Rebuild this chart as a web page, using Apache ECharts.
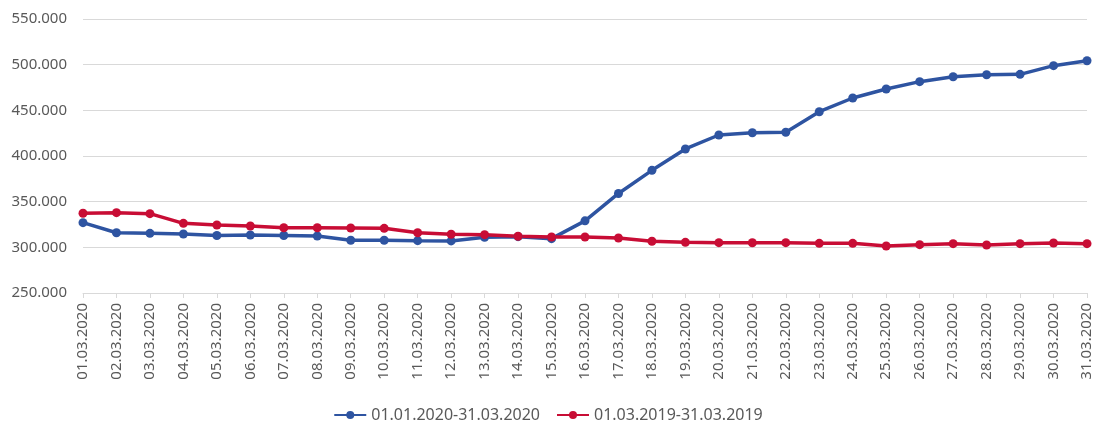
<!DOCTYPE html>
<html>
<head>
<meta charset="utf-8">
<script src="https://cdn.jsdelivr.net/npm/echarts@6/dist/echarts.min.js"></script>
<style>
  html, body { margin: 0; padding: 0; background: #fff; }
  #chart { width: 1096px; height: 428px; }
</style>
</head>
<body>
<div id="chart"></div>
<script>
// kategorien (tage)
var days = [];
for (var d = 1; d <= 31; d++) {
  days.push((d < 10 ? "0" + d : "" + d) + ".03.2020");
}
// werte
var series2020 = [
  327000, 316000, 315300, 314600, 313000, 313500, 313000, 312400, 307700, 307700,
  307300, 307000, 311000, 311700, 309500, 329000, 359000, 384300, 407700, 423000,
  425500, 426000, 448500, 463500, 473400, 481400, 486800, 489000, 489400, 498900,
  504300
];
var series2019 = [
  337300, 338000, 336900, 326300, 324400, 323300, 321500, 321500, 321200, 320800,
  316000, 314300, 313900, 312100, 311300, 311300, 310200, 306600, 305500, 305100,
  305000, 305100, 304400, 304400, 301500, 302900, 304000, 302500, 304000, 304700,
  304000
];
var names = ["01.01.2020-31.03.2020", "01.03.2019-31.03.2019"];

var chart = echarts.init(document.getElementById("chart"));

function fmt(v) {
  var s = String(Math.round(v / 1000));
  return s + ".000";
}

var option = {
  animation: false,
  textStyle: { fontFamily: "Noto Sans" },
  grid: { left: 83, right: 9, top: 19, bottom: 135 },
  legend: {
    bottom: 0,
    left: "center",
    itemWidth: 32,
    itemHeight: 10,
    itemGap: 16,
    textStyle: { color: "#595959", fontSize: 16, fontFamily: "Noto Sans" },
    data: names
  },
  xAxis: {
    type: "category",
    data: days,
    boundaryGap: false,
    axisLine: { lineStyle: { color: "#d9d9d9", width: 1 } },
    axisTick: { show: true, length: 5, lineStyle: { color: "#d9d9d9" } },
    axisLabel: {
      rotate: 90,
      interval: 0,
      margin: 10,
      color: "#595959",
      fontSize: 15,
      fontFamily: "Noto Sans"
    }
  },
  yAxis: {
    type: "value",
    min: 250000,
    max: 550000,
    interval: 50000,
    axisLine: { show: false },
    axisTick: { show: false },
    axisLabel: {
      margin: 16,
      color: "#595959",
      fontSize: 15,
      fontFamily: "Noto Sans",
      formatter: fmt
    },
    splitLine: { lineStyle: { color: "#d9d9d9", width: 1 } }
  },
  series: [
    {
      name: names[0],
      type: "line",
      data: series2020,
      symbol: "circle",
      symbolSize: 9,
      lineStyle: { color: "#2e54a1", width: 3.5 },
      itemStyle: { color: "#2e54a1" }
    },
    {
      name: names[1],
      type: "line",
      data: series2019,
      symbol: "circle",
      symbolSize: 9,
      lineStyle: { color: "#c80d35", width: 3.5 },
      itemStyle: { color: "#c80d35" }
    }
  ]
};
chart.setOption(option);
</script>
</body>
</html>
